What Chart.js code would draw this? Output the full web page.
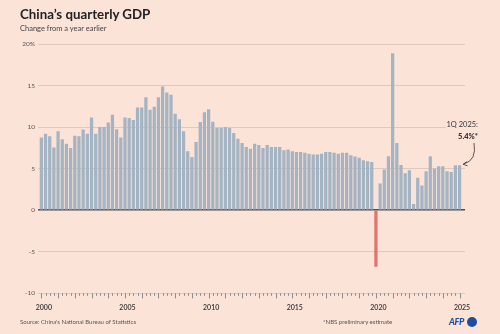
<!DOCTYPE html>
<html>
<head>
<meta charset="utf-8">
<script src="https://cdn.jsdelivr.net/npm/chart.js@4.4.1/dist/chart.umd.min.js"></script>
<style>
  html, body { margin: 0; padding: 0; background: #fce3d8; }
  #wrap { position: relative; width: 500px; height: 334px; overflow: hidden; font-family: Lato, "Open Sans", sans-serif; color: #333; }
  #wrap canvas { position: absolute; left: 0; top: 0; }
  .txt { position: absolute; white-space: nowrap; line-height: 1; }
  #title { left: 20px; top: 8px; font-size: 13.3px; font-weight: 700; color: #222; }
  #subtitle { left: 20px; top: 25px; font-size: 7.5px; color: #444; }
  #source { left: 20px; top: 319px; font-size: 6px; color: #555; }
  #note { left: 323px; top: 319px; font-size: 6px; color: #555; }
  #afp { left: 449px; top: 317px; font-size: 9px; font-weight: 900; font-style: italic; color: #1d4f9e; letter-spacing: -0.3px; }
  #afpdot { position: absolute; left: 467px; top: 317px; width: 10px; height: 10px; border-radius: 50%; background: #1d4f9e; }
  #annot { left: 446px; top: 119px; width: 32px; text-align: right; font-size: 7.5px; line-height: 12px; background: #fce3d8; color: #333; }
  #annot b { font-weight: 900; }
  svg { position: absolute; left: 0; top: 0; }
</style>
</head>
<body>
<div id="wrap">
  <canvas id="chart" width="500" height="334"></canvas>
  <div class="txt" id="title">China’s quarterly GDP</div>
  <div class="txt" id="subtitle">Change from a year earlier</div>
  <div class="txt" id="annot">1Q 2025:<br><b>5.4%*</b></div>
  <svg width="500" height="334">
    <path d="M474,143 Q477,160 464,164" fill="none" stroke="#333" stroke-width="0.8"/>
    <path d="M467,161.5 L463,164.3 L467.5,165.8" fill="none" stroke="#333" stroke-width="0.8"/>
  </svg>
  <div class="txt" id="source">Source: China's National Bureau of Statistics</div>
  <div class="txt" id="note">*NBS preliminary estimate</div>
  <div class="txt" id="afp">AFP</div>
  <div id="afpdot"></div>
</div>
<script>
// quarterly GDP growth, % change from a year earlier, 2000 Q1 .. 2025 Q1
const startYear = 2000;
const gdpGrowth = [
  8.75, 9.2, 8.9, 7.55,     // 2000
  9.5, 8.55, 8.0, 7.5,      // 2001
  8.95, 8.9, 9.7, 9.2,      // 2002
  11.15, 9.2, 10.0, 10.0,   // 2003
  10.55, 11.5, 9.75, 8.75,  // 2004
  11.15, 11.1, 10.85, 12.35,// 2005
  12.35, 13.6, 12.1, 12.45, // 2006
  13.6, 14.9, 14.15, 13.9,  // 2007
  11.6, 10.95, 9.5, 7.1,    // 2008
  6.4, 8.2, 10.6, 11.8,     // 2009
  12.15, 10.65, 9.9, 9.9,   // 2010
  10.0, 9.9, 9.3, 8.6,      // 2011
  8.1, 7.6, 7.4, 8.0,       // 2012
  7.85, 7.5, 7.85, 7.6,     // 2013
  7.6, 7.6, 7.2, 7.3,       // 2014
  7.1, 7.0, 7.0, 6.9,       // 2015
  6.8, 6.7, 6.7, 6.8,       // 2016
  7.0, 7.0, 6.9, 6.8,       // 2017
  6.9, 6.9, 6.6, 6.45,      // 2018
  6.3, 6.0, 5.9, 5.8,       // 2019
  -6.8, 3.2, 4.9, 6.5,      // 2020
  18.9, 8.1, 5.45, 4.45,    // 2021
  4.8, 0.76, 3.9, 2.96,     // 2022
  4.7, 6.5, 5.0, 5.3,       // 2023
  5.3, 4.7, 4.6, 5.4,       // 2024
  5.4                       // 2025 Q1
];
const yTicks = [-10, -5, 0, 5, 10, 15, 20];
const xTickYears = [2000, 2005, 2010, 2015, 2020, 2025];

const barBlue = '#a4b4c3';
const barRed = '#e4736f';
const gridCol = '#dfc8be';

const points = gdpGrowth.map((v, i) => ({ x: i, y: v }));

// small quarter ticks under the axis, longer ones for each year
const quarterTicks = {
  id: 'quarterTicks',
  afterDraw(chart) {
    const xs = chart.scales.x, ctx = chart.ctx;
    const y0 = chart.chartArea.bottom;
    ctx.save();
    ctx.strokeStyle = '#8a8a8a';
    ctx.lineWidth = 1;
    for (let i = 0; i < gdpGrowth.length; i++) {
      const x = Math.round(xs.getPixelForValue(i)) + 0.5;
      const len = i % 4 === 0 ? 5 : 2.5;
      ctx.beginPath();
      ctx.moveTo(x, y0);
      ctx.lineTo(x, y0 + len);
      ctx.stroke();
    }
    ctx.restore();
  }
};

new Chart(document.getElementById('chart'), {
  type: 'bar',
  data: {
    datasets: [{
      data: points,
      backgroundColor: gdpGrowth.map(v => v < 0 ? barRed : barBlue),
      borderWidth: 0,
      barPercentage: 0.78,
      categoryPercentage: 1
    }]
  },
  options: {
    responsive: false,
    devicePixelRatio: 1,
    animation: false,
    layout: { padding: { top: 44, right: 35, left: 0, bottom: 0 } },
    plugins: { legend: { display: false }, tooltip: { enabled: false } },
    scales: {
      x: {
        type: 'linear',
        offset: false,
        min: -0.8,
        max: 101.3,
        grid: { display: false, drawTicks: false, offset: false },
        border: { display: false },
        afterBuildTicks(scale) {
          scale.ticks = xTickYears.map(y => ({ value: (y - startYear) * 4 }));
        },
        afterFit(scale) { scale.height = 40.7; },
        ticks: {
          padding: 10,
          labelOffset: 2.5,
          maxRotation: 0,
          autoSkip: false,
          color: '#333',
          font: { family: 'Lato', size: 7, weight: '600' },
          callback: v => String(startYear + v / 4)
        }
      },
      y: {
        min: -10,
        max: 20,
        afterBuildTicks(scale) {
          scale.ticks = yTicks.map(v => ({ value: v }));
        },
        afterFit(scale) { scale.width = 38; },
        grid: {
          drawTicks: false,
          color: ctx => ctx.tick.value === 0 ? '#4d4d4d' : gridCol,
          lineWidth: ctx => ctx.tick.value === 0 ? 1.5 : 1
        },
        border: { display: false },
        ticks: {
          padding: 3,
          color: '#555',
          font: { family: 'Lato', size: 6.5 },
          callback: v => v === 20 ? '20%' : String(v)
        }
      }
    }
  },
  plugins: [quarterTicks]
});
</script>
</body>
</html>
